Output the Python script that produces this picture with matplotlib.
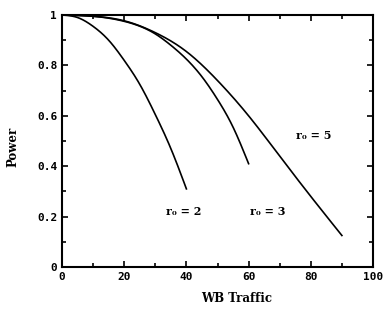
import matplotlib
matplotlib.use("Agg")
import matplotlib.pyplot as plt
from matplotlib.ticker import MultipleLocator
import numpy as np

x_r2 = [0, 5, 10, 15, 20, 25, 30, 35, 40]
p_r2 = [1.0, 0.99, 0.955, 0.9, 0.82, 0.725, 0.605, 0.47, 0.31]

x_r3 = [0, 10, 20, 30, 35, 40, 45, 50, 55, 60]
p_r3 = [1.0, 0.995, 0.975, 0.925, 0.88, 0.825, 0.755, 0.665, 0.555, 0.41]

x_r5 = [0, 10, 20, 30, 40, 50, 60, 70, 80, 90]
p_r5 = [1.0, 0.995, 0.977, 0.93, 0.855, 0.74, 0.6, 0.44, 0.28, 0.125]

labels = ["r\u2080 = 2", "r\u2080 = 3", "r\u2080 = 5"]
label_pos = [(39, 0.22), (66, 0.22), (81, 0.52)]

x_ticks = [0, 20, 40, 60, 80, 100]
y_ticks = [0, 0.2, 0.4, 0.6, 0.8, 1]
y_ticklabels = ["0", "0.2", "0.4", "0.6", "0.8", "1"]

fig = plt.figure(figsize=(3.84, 3.16), dpi=100)
ax = fig.add_axes([62/384, 1-267/316, (373-62)/384, (267-15)/316])

def spline(xs, ys, n=300):
    xs = np.asarray(xs, float); ys = np.asarray(ys, float)
    k = len(xs); h = np.diff(xs)
    A = np.zeros((k, k)); b = np.zeros(k)
    A[0, 0] = 1; A[-1, -1] = 1
    for i in range(1, k-1):
        A[i, i-1] = h[i-1]; A[i, i] = 2*(h[i-1]+h[i]); A[i, i+1] = h[i]
        b[i] = 6*((ys[i+1]-ys[i])/h[i] - (ys[i]-ys[i-1])/h[i-1])
    M = np.linalg.solve(A, b)
    xx = np.linspace(xs[0], xs[-1], n)
    idx = np.clip(np.searchsorted(xs, xx) - 1, 0, k-2)
    x0 = xs[idx]; x1 = xs[idx+1]; hi = h[idx]
    yy = (M[idx]*(x1-xx)**3/(6*hi) + M[idx+1]*(xx-x0)**3/(6*hi)
          + (ys[idx]/hi - M[idx]*hi/6)*(x1-xx) + (ys[idx+1]/hi - M[idx+1]*hi/6)*(xx-x0))
    return xx, np.minimum(yy, 1.0)

for xs, ys in [(x_r2, p_r2), (x_r3, p_r3), (x_r5, p_r5)]:
    xx, yy = spline(xs, ys)
    ax.plot(xx, yy, color="black", lw=1.2)

for lab, (lx, ly) in zip(labels, label_pos):
    ax.text(lx, ly, lab, family="DejaVu Serif", fontsize=8, fontweight="bold",
            ha="center", va="center")

ax.set_xlim(0, 100)
ax.set_ylim(0, 1)
ax.set_xticks(x_ticks)
ax.set_yticks(y_ticks)
ax.set_yticklabels(y_ticklabels)
ax.xaxis.set_minor_locator(MultipleLocator(10))
ax.yaxis.set_minor_locator(MultipleLocator(0.1))
ax.tick_params(which="both", direction="in", top=True, right=True, width=1.2)
ax.tick_params(which="major", length=4)
ax.tick_params(which="minor", length=3)
for lbl in ax.get_xticklabels() + ax.get_yticklabels():
    lbl.set_family("DejaVu Sans Mono")
    lbl.set_fontweight("bold")
    lbl.set_fontsize(8)
for s in ax.spines.values():
    s.set_linewidth(1.5)

fig.text(237/384, 1-298/316, "WB Traffic", family="DejaVu Serif", fontweight="bold",
         fontsize=8.5, ha="center", va="center")
fig.text(13/384, 1-147/316, "Power", family="DejaVu Serif", fontweight="bold",
         fontsize=8.5, ha="center", va="center", rotation=90)

fig.savefig("out.png", dpi=100)
